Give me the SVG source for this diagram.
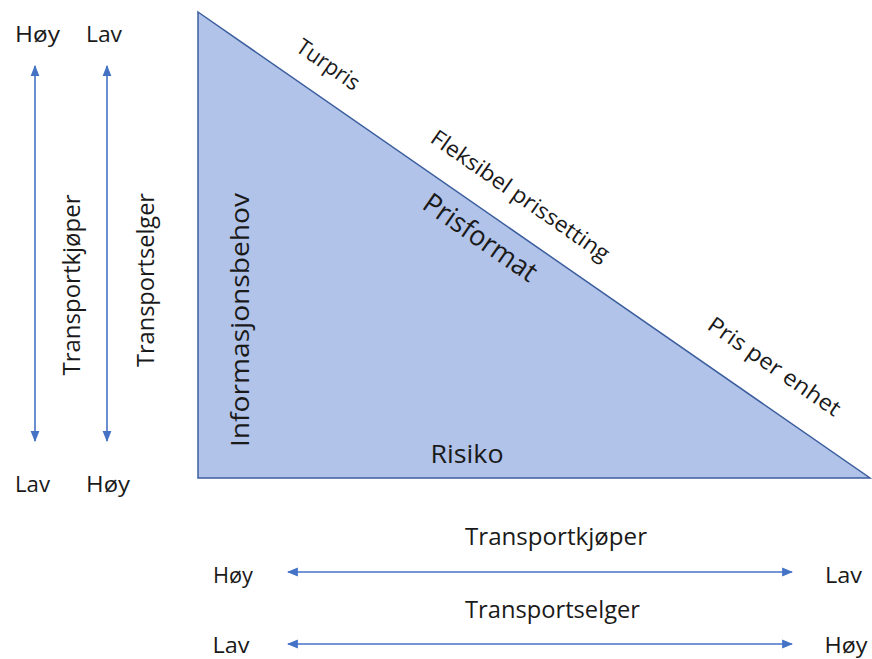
<svg xmlns="http://www.w3.org/2000/svg" width="872" height="659" viewBox="0 0 872 659">
<defs>
<style>
text{font-family:"Open Sans","Liberation Sans",sans-serif;fill:#1a1a1a;text-anchor:middle;}
.lbl{font-size:22px;}
.axis{font-size:23px;}
.diag{font-size:22px;}
.arr{stroke:#4472C4;stroke-width:1.6;fill:none;marker-start:url(#ah);marker-end:url(#ah);}
</style>
<marker id="ah" viewBox="0 0 10 10" refX="9" refY="5" markerWidth="11" markerHeight="11" orient="auto-start-reverse" markerUnits="userSpaceOnUse">
<path d="M0,1 L10,5 L0,9 Z" fill="#4472C4"/>
</marker>
</defs>
<rect width="872" height="659" fill="#ffffff"/>
<g id="triangle">
<path d="M198,12 L870,478 L198,478 Z" fill="#B1C3E8" stroke="#3C5E9E" stroke-width="1.5"/>
<text transform="translate(249 320) rotate(-90)" style="font-size:25px" textLength="254" lengthAdjust="spacingAndGlyphs">Informasjonsbehov</text>
<text x="467" y="463" style="font-size:25px" textLength="73" lengthAdjust="spacingAndGlyphs">Risiko</text>
<text transform="translate(480 238) rotate(34.74)" dy="9" style="font-size:28px" textLength="132" lengthAdjust="spacingAndGlyphs">Prisformat</text>
</g>
<g id="edge-labels">
<text class="diag" transform="translate(328 65) rotate(34.74)" dy="7" textLength="72" lengthAdjust="spacingAndGlyphs">Turpris</text>
<text class="diag" transform="translate(520 196) rotate(34.74)" dy="7" textLength="212" lengthAdjust="spacingAndGlyphs">Fleksibel prissetting</text>
<text class="diag" transform="translate(774 367) rotate(34.74)" dy="7" textLength="156" lengthAdjust="spacingAndGlyphs">Pris per enhet</text>
</g>
<g id="connectors">
<line class="arr" x1="35" y1="441" x2="35" y2="66"/>
<line class="arr" x1="107" y1="441" x2="107" y2="66"/>
<line class="arr" x1="288" y1="572" x2="792" y2="572"/>
<line class="arr" x1="288" y1="644" x2="792" y2="644"/>
</g>
<g id="left-buyer">
<text x="37.5" y="42" class="lbl" textLength="45" lengthAdjust="spacingAndGlyphs">Høy</text>
<text x="32.5" y="492" class="lbl" textLength="35" lengthAdjust="spacingAndGlyphs">Lav</text>
<text transform="translate(80 285) rotate(-90)" class="axis" textLength="181" lengthAdjust="spacingAndGlyphs">Transportkjøper</text>
</g>
<g id="left-seller">
<text x="104" y="42" class="lbl" textLength="36" lengthAdjust="spacingAndGlyphs">Lav</text>
<text x="108" y="492" class="lbl" textLength="44" lengthAdjust="spacingAndGlyphs">Høy</text>
<text transform="translate(154 280) rotate(-90)" class="axis" textLength="174" lengthAdjust="spacingAndGlyphs">Transportselger</text>
</g>
<g id="bottom-buyer">
<text x="556" y="545" class="axis" textLength="182" lengthAdjust="spacingAndGlyphs">Transportkjøper</text>
<text x="233" y="583" class="lbl" textLength="40" lengthAdjust="spacingAndGlyphs">Høy</text>
<text x="843.5" y="583" class="lbl" textLength="37" lengthAdjust="spacingAndGlyphs">Lav</text>
</g>
<g id="bottom-seller">
<text x="552.5" y="618" class="axis" textLength="175" lengthAdjust="spacingAndGlyphs">Transportselger</text>
<text x="231" y="653" class="lbl" textLength="37" lengthAdjust="spacingAndGlyphs">Lav</text>
<text x="846" y="653" class="lbl" textLength="43" lengthAdjust="spacingAndGlyphs">Høy</text>
</g>
</svg>
